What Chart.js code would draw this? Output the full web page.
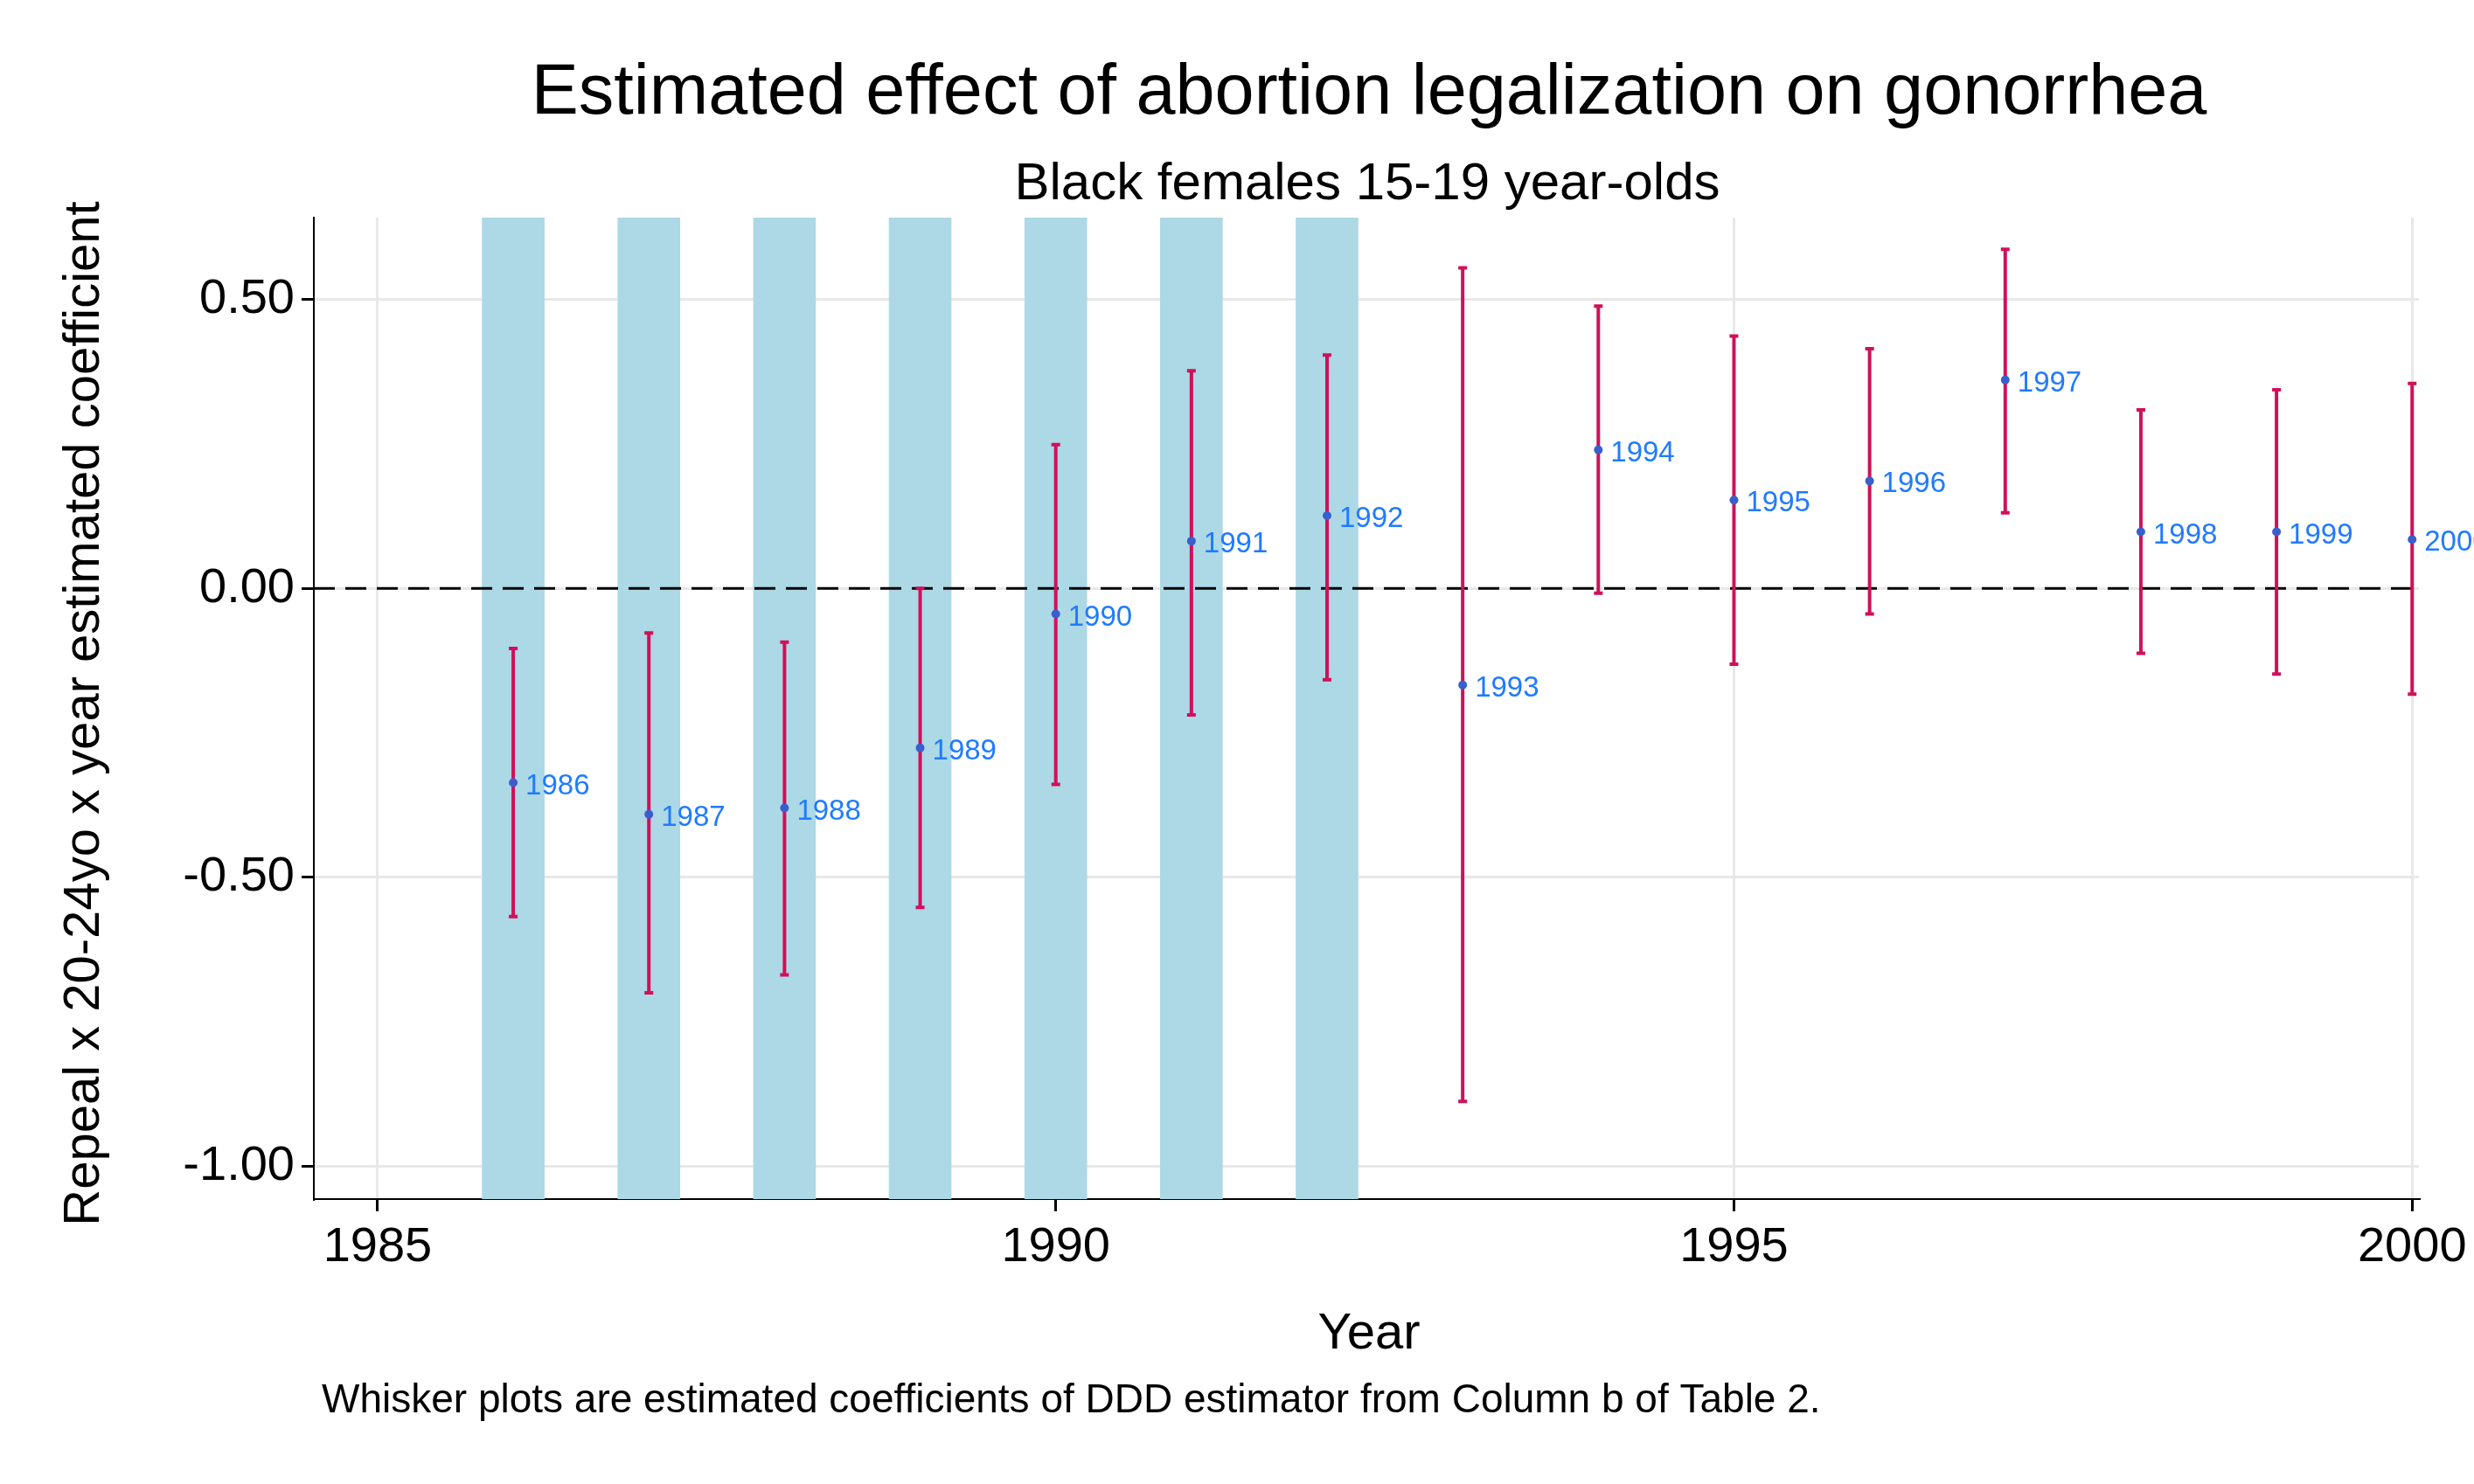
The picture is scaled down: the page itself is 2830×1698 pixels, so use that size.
<!DOCTYPE html>
<html>
<head>
<meta charset="utf-8">
<script src="https://cdn.jsdelivr.net/npm/chart.js@4"></script>
<style>
  body { margin: 0; background: #fff; }
</style>
</head>
<body>
<canvas id="chart" width="2830" height="1698"></canvas>
<script>
const years = [1986, 1987, 1988, 1989, 1990, 1991, 1992, 1993, 1994, 1995, 1996, 1997, 1998, 1999, 2000];
const coef  = [-0.336, -0.391, -0.380, -0.276, -0.044, 0.082, 0.126, -0.167, 0.240, 0.153, 0.186, 0.361, 0.098, 0.098, 0.085];
const lower = [-0.568, -0.700, -0.669, -0.552, -0.339, -0.219, -0.158, -0.888, -0.008, -0.131, -0.044, 0.131, -0.112, -0.148, -0.183];
const upper = [-0.104, -0.077, -0.093, 0.000, 0.249, 0.377, 0.404, 0.555, 0.489, 0.437, 0.415, 0.587, 0.309, 0.344, 0.355];
const shadedYears = [1986, 1987, 1988, 1989, 1990, 1991, 1992];
const yTicks = [-1.0, -0.5, 0.0, 0.5];

const Y_MIN = -1.057, Y_MAX = 0.642;
const FONT = "Helvetica, 'Liberation Sans', Arial, sans-serif";

// zero line, error bars, year labels and text
const extras = {
    id: 'extras',
    afterDatasetsDraw(chart) {
        const { ctx, chartArea: a, scales: { x, y } } = chart;
        ctx.save();
        ctx.strokeStyle = '#000';
        ctx.lineWidth = 3;
        ctx.setLineDash([24, 12]);
        ctx.beginPath();
        ctx.moveTo(a.left, y.getPixelForValue(0));
        ctx.lineTo(a.right, y.getPixelForValue(0));
        ctx.stroke();
        ctx.setLineDash([]);
        ctx.strokeStyle = '#d0105a';
        ctx.lineWidth = 4;
        years.forEach((yr, i) => {
            const px = x.getPixelForValue(yr);
            const lo = y.getPixelForValue(lower[i]);
            const hi = y.getPixelForValue(upper[i]);
            ctx.beginPath();
            ctx.moveTo(px, lo); ctx.lineTo(px, hi);
            ctx.moveTo(px - 5, lo); ctx.lineTo(px + 5, lo);
            ctx.moveTo(px - 5, hi); ctx.lineTo(px + 5, hi);
            ctx.stroke();
        });
        ctx.fillStyle = '#3a5fcd';
        years.forEach((yr, i) => {
            ctx.beginPath();
            ctx.arc(x.getPixelForValue(yr), y.getPixelForValue(coef[i]), 5, 0, Math.PI * 2);
            ctx.fill();
        });
        ctx.fillStyle = '#1f7bff';
        ctx.font = `33px ${FONT}`;
        ctx.textBaseline = 'middle';
        years.forEach((yr, i) => {
            ctx.fillText(String(yr), x.getPixelForValue(yr) + 14, y.getPixelForValue(coef[i]) + 4);
        });
        ctx.fillStyle = '#000';
        ctx.textAlign = 'center';
        ctx.font = `81px ${FONT}`;
        ctx.fillText('Estimated effect of abortion legalization on gonorrhea', 1566, 108);
        ctx.font = `60px ${FONT}`;
        ctx.fillText('Black females 15-19 year-olds', 1564, 211);
        ctx.font = `58px ${FONT}`;
        ctx.fillText('Year', 1566, 1527);
        ctx.font = `46px ${FONT}`;
        ctx.textAlign = 'left';
        ctx.fillText('Whisker plots are estimated coefficients of DDD estimator from Column b of Table 2.', 368, 1603);
        ctx.translate(97, (a.top + a.bottom) / 2 + 6);
        ctx.rotate(-Math.PI / 2);
        ctx.textAlign = 'center';
        ctx.font = `58px ${FONT}`;
        ctx.fillText('Repeal x 20-24yo x year estimated coefficient', 0, 0);
        ctx.restore();
    }
};

new Chart(document.getElementById('chart'), {
    data: {
        datasets: [{
            type: 'bar',
            data: shadedYears.map(yr => ({ x: yr, y: [Y_MIN, Y_MAX] })),
            backgroundColor: '#add8e6',
            barThickness: 71
        }]
    },
    options: {
        responsive: false,
        devicePixelRatio: 1,
        animation: false,
        layout: { padding: { top: 249, right: 63, bottom: 126, left: 0 } },
        plugins: { legend: { display: false }, tooltip: { enabled: false } },
        scales: {
            x: {
                type: 'linear',
                offset: false,
                min: 1984.53, max: 2000.05,
                afterBuildTicks: s => { s.ticks = [1985, 1990, 1995, 2000].map(v => ({ value: v })); },
                afterFit: s => { s.height = 200; },
                grid: { offset: false, color: '#e8e8e8', lineWidth: 3, tickColor: '#000', tickLength: 14 },
                border: { color: '#000', width: 2, dash: [] },
                ticks: { color: '#000', font: { family: FONT, size: 56 }, padding: 8, callback: v => String(v) }
            },
            y: {
                min: Y_MIN, max: Y_MAX,
                afterBuildTicks: s => { s.ticks = yTicks.map(v => ({ value: v })); },
                afterFit: s => { s.width = 359; },
                grid: { color: '#e8e8e8', lineWidth: 3, tickColor: '#000', tickLength: 14 },
                border: { color: '#000', width: 2 },
                ticks: { color: '#000', font: { family: FONT, size: 56 }, padding: 8, callback: v => v.toFixed(2) }
            }
        }
    },
    plugins: [extras]
});
</script>
</body>
</html>
